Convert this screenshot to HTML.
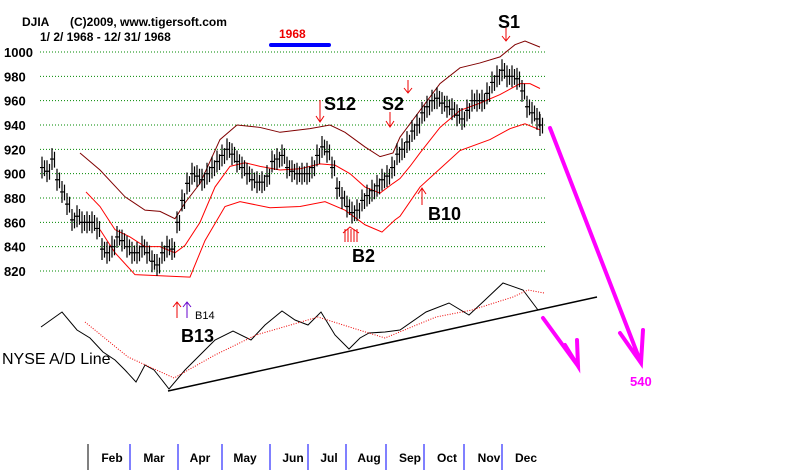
<!DOCTYPE html>
<html><head><meta charset="utf-8"><style>
body{margin:0;background:#fff;}
svg{display:block;font-family:"Liberation Sans",Arial,sans-serif;}
</style></head><body>
<svg id="c" width="800" height="470" viewBox="0 0 800 470">
<g id="grid"></g>
<g id="ylabels"></g>
<text x="22" y="26" font-size="12" font-weight="bold">DJIA</text>
<text x="70" y="26" font-size="12" font-weight="bold">(C)2009, www.tigersoft.com</text>
<text x="40" y="41" font-size="12" font-weight="bold">1/ 2/ 1968 - 12/ 31/ 1968</text>
<text x="279" y="38" font-size="12" font-weight="bold" fill="#e00">1968</text>
<line x1="271" y1="45" x2="329" y2="45" stroke="#00f" stroke-width="4" stroke-linecap="round"/>
<g id="bands"></g>
<g id="bars"></g>
<g id="ad"></g>
<line x1="168" y1="391" x2="597" y2="297" stroke="#000" stroke-width="1.5"/>
<g fill="none" stroke="#e00" stroke-width="1">
<path d="M320 100V122M316 116L320 122L324 116"/>
<path d="M390 112V127M386 121L390 127L394 121"/>
<path d="M408 80V93M404 88L408 93L412 88"/>
<path d="M506 28V41M502 36L506 41L510 36"/>
<path d="M422 205V188M418 194L422 188L426 194"/>
<path d="M345 242V229M348 242V229M351 242V229M354 242V229M357 242V229M343 233L350 227L359 233"/>
<path d="M177 318V302M173 307L177 302L181 307"/>
<path d="M187 318V302M183 307L187 302L191 307" stroke="#60c"/>
</g>
<g font-weight="bold" fill="#000">
<text x="324" y="110" font-size="18">S12</text>
<text x="382" y="110" font-size="18">S2</text>
<text x="498" y="28" font-size="18">S1</text>
<text x="428" y="220" font-size="18">B10</text>
<text x="352" y="262" font-size="18">B2</text>
<text x="181" y="342" font-size="18">B13</text>
<text x="195" y="319" font-size="11" font-weight="normal">B14</text>
</g>
<text x="2" y="364" font-size="16">NYSE A/D Line</text>
<g stroke="#f0f" stroke-width="4" fill="none" stroke-linecap="round">
<path d="M550 128L641 363M620 333L641 363L643 330"/>
<path d="M543 318L578 366M565 345L578 366L577 340"/>
</g>
<text x="630" y="386" font-size="13" font-weight="bold" fill="#f0f">540</text>
<g id="months"></g>
</svg>
<script>
const yTicks=[1000,980,960,940,920,900,880,860,840,820];
const priceX=[42,47,52,57,62,67,72,77,82,87,92,97,102,107,112,117,122,127,132,137,142,147,152,157,162,167,172,177,182,187,192,197,202,207,212,217,222,227,232,237,242,247,252,257,262,267,272,277,282,287,292,297,302,307,312,317,322,327,332,337,342,347,352,357,362,367,372,377,382,387,392,397,402,407,412,417,422,427,432,437,442,447,452,457,462,467,472,477,482,487,492,497,502,507,512,517,522,527,532,537,540];
const closes=[905,902,912,895,885,875,862,865,860,860,860,855,838,835,840,848,845,840,835,835,840,835,828,825,835,840,838,860,878,892,900,898,895,900,905,910,915,920,916,910,905,900,895,893,893,898,910,912,915,905,902,900,900,900,905,915,922,918,905,888,880,873,868,870,878,882,886,890,895,898,905,916,920,926,935,940,950,955,960,962,958,955,953,948,945,952,960,960,960,966,975,980,985,980,980,978,968,955,950,945,940];
const upperX=[80,100,125,145,160,175,185,200,220,237,260,280,310,330,345,365,380,393,400,420,440,460,480,500,515,525,540];
const upperV=[917,903,881,870,869,863,876,892,928,940,938,934,937,940,934,922,914,917,930,952,974,987,991,996,1006,1009,1004];
const midX=[86,100,115,130,145,160,175,185,200,215,230,245,260,280,300,320,335,350,365,380,393,400,410,420,440,460,480,500,520,530,540];
const midV=[885,873,854,848,840,840,835,841,860,889,906,909,906,903,904,908,907,900,889,884,892,896,906,917,938,952,958,965,974,974,970];
const lowX=[100,115,135,190,205,225,240,270,300,325,345,365,382,395,400,420,440,460,490,510,525,540];
const lowV=[854,835,817,815,845,873,877,872,873,877,870,858,852,862,865,889,904,919,928,937,941,936];
const adX=[41,62,77,90,103,115,125,136,145,154,162,169,185,205,215,233,251,265,282,295,308,321,335,349,360,369,385,400,426,449,469,485,503,523,538];
const adV=[73,88,70,62,48,40,30,18,35,30,20,11,30,50,60,69,60,75,89,80,75,88,65,51,62,67,68,70,88,97,85,100,117,110,90];
const adMaX=[85,128,174,215,256,318,359,385,436,472,513,528,544];
const adMaV=[78,43,22,45,65,83,70,62,83,90,103,110,107];
const months=['Feb','Mar','Apr','May','Jun','Jul','Aug','Sep','Oct','Nov','Dec'];
const monthX=[112,154,200,245,293,329,369,410,447,489,526];
const sepX=[88,130,178,222,270,308,346,386,424,464,502];
const NS='http://www.w3.org/2000/svg';
function yP(v){return 52+(1000-v)*1.2167;}
function yA(v){return 400-v;}
function mk(t,a,p){const e=document.createElementNS(NS,t);for(const k in a)e.setAttribute(k,a[k]);p.appendChild(e);return e;}
const grid=document.getElementById('grid'),yl=document.getElementById('ylabels');
yTicks.forEach(v=>{
 const l=mk('line',{x1:40,x2:545,y1:yP(v),y2:yP(v),stroke:'#080','stroke-width':1,'stroke-dasharray':'1 2'},grid);
 
 
 const t=mk('text',{x:4,y:yP(v)+5,'font-size':13,'font-weight':'bold'},yl);t.textContent=v;
 
 
});
const bands=document.getElementById('bands');
function pl(xs,vs,f,col,g,nm){
 const p=mk('polyline',{points:xs.map((x,i)=>x+','+f(vs[i])).join(' '),fill:'none',stroke:col,'stroke-width':1},g);
 
 
 return p;
}
const cp=mk('clipPath',{id:'cl'},document.getElementById('c'));mk('rect',{x:0,y:0,width:800,height:279},cp);
bands.setAttribute('clip-path','url(#cl)');
pl(upperX,upperV,yP,'#800000',bands,'upper-band');
pl(midX,midV,yP,'#f00',bands,'middle-band');
pl(lowX,lowV,yP,'#f00',bands,'lower-band');
const bars=document.getElementById('bars');
priceX.forEach((x,i)=>{
 const c=closes[i];
 const g=mk('path',{d:`M${x} ${yP(c+9)}V${yP(c-9)}M${x-2} ${yP(c)}H${x+2}M${x+2.5} ${yP(c+6)}V${yP(c-7)}`,stroke:'#000','stroke-width':1.2,fill:'none'},bars);
 
 
});
const ad=document.getElementById('ad');
pl(adX,adV,yA,'#000',ad,'ad-line');
const ma=pl(adMaX,adMaV,yA,'#e00',ad,'ad-moving-average');ma.setAttribute('stroke-dasharray','1 1.5');
const mg=document.getElementById('months');
sepX.forEach((x,i)=>{const l=mk('line',{x1:x,x2:x,y1:444,y2:470,stroke:i==0?'#000':'#00f','stroke-width':1},mg);
 
 });
months.forEach((m,i)=>{const t=mk('text',{x:monthX[i],y:462,'font-size':12,'font-weight':'bold','text-anchor':'middle'},mg);t.textContent=m;
 
 });
</script>
</body></html>
